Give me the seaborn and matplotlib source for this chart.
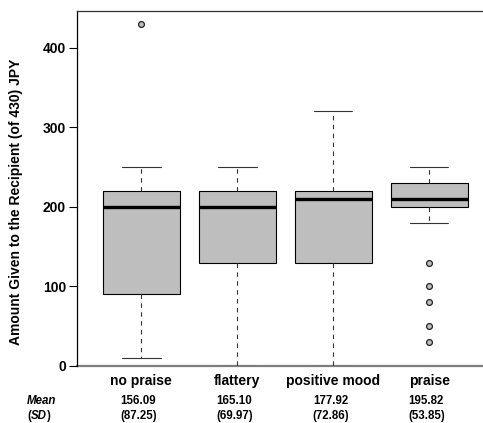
import pandas as pd
import matplotlib
matplotlib.use("Agg")
import matplotlib.pyplot as plt
import seaborn as sns

# values
conditions = ["no praise", "flattery", "positive mood", "praise"]
whisker_low = [10, 0, 0, 180]
q1 = [90, 130, 130, 200]
medians = [200, 200, 210, 210]
q3 = [220, 220, 220, 230]
whisker_high = [250, 250, 320, 250]
outliers = [[430], [], [], [130, 100, 80, 50, 30]]
means = [156.09, 165.10, 177.92, 195.82]
sds = [87.25, 69.97, 72.86, 53.85]
y_ticks = [0, 100, 200, 300, 400]


def box_sample(lo, a, med, b, hi, outs, m=6):
    # 4m+1 sorted values whose quartiles land exactly on a, med, b
    below = sorted([o for o in outs if o < a] + [lo])
    above = sorted([hi] + [o for o in outs if o > b])
    vals = below + [a] * (m - len(below)) + [a] * m + [med]
    vals += [b] * m + [b] * (m - len(above)) + above
    return vals


rows = []
for i, cond in enumerate(conditions):
    for v in box_sample(whisker_low[i], q1[i], medians[i], q3[i],
                        whisker_high[i], outliers[i]):
        rows.append({"condition": cond, "amount": v})
df = pd.DataFrame(rows)

sns.set_style("ticks")
plt.rcParams["font.family"] = ["Liberation Sans", "DejaVu Sans"]
plt.rcParams["font.weight"] = "bold"
plt.rcParams["text.color"] = "black"
plt.rcParams["axes.labelcolor"] = "black"
plt.rcParams["xtick.color"] = "black"
plt.rcParams["ytick.color"] = "black"

fig = plt.figure(figsize=(4.83, 4.23), dpi=100)
ax = fig.add_axes([77 / 483, 57.1 / 423, 416.6 / 483, 354.6 / 423])

sns.boxplot(
    data=df, x="condition", y="amount", order=conditions,
    color="#BEBEBE", saturation=1, width=0.8,
    linecolor="black", linewidth=0.8,
    whiskerprops=dict(linestyle=(0, (4, 4)), linewidth=0.8, color="#333333"),
    capprops=dict(linewidth=0.8, color="#333333"),
    medianprops=dict(linewidth=2.4, color="black"),
    flierprops=dict(marker="o", markersize=4.2, markerfacecolor="#BEBEBE",
                    markeredgecolor="#222222", markeredgewidth=0.9),
    ax=ax,
)

ax.set_xlim(-0.67, 3.67)
ax.set_ylim(0, 446)
ax.set_yticks(y_ticks)
ax.set_yticklabels([str(t) for t in y_ticks], fontsize=10, fontweight="bold")
ax.tick_params(axis="y", length=6, width=0.8, pad=2, color="black",
               labelcolor="black")
ax.tick_params(axis="x", length=0, pad=6, labelsize=10, labelcolor="black")
for lab in ax.get_xticklabels():
    lab.set_fontweight("bold")
ax.set_xlabel("")
ax.set_ylabel("Amount Given to the Recipient (of 430) JPY",
              fontsize=10, fontweight="bold", color="black")
ax.yaxis.set_label_coords(-0.13, 0.464)

ax.spines["left"].set_color("black")
ax.spines["left"].set_linewidth(0.9)
ax.spines["top"].set_color("#333333")
ax.spines["top"].set_linewidth(0.9)
ax.spines["bottom"].set_color("#7F7F7F")
ax.spines["bottom"].set_linewidth(1.6)
ax.spines["bottom"].set_zorder(0)

# mean / SD rows under the category labels
for i in range(len(conditions)):
    ax.annotate(f"{means[i]:.2f}", xy=(i - 0.03, 0),
                xycoords=("data", "axes fraction"), xytext=(0, -35),
                textcoords="offset pixels", ha="center", va="center",
                fontsize=8.3, fontweight="bold", annotation_clip=False)
    ax.annotate(f"({sds[i]:.2f})", xy=(i - 0.03, 0),
                xycoords=("data", "axes fraction"), xytext=(0, -50),
                textcoords="offset pixels", ha="center", va="center",
                fontsize=8.3, fontweight="bold", annotation_clip=False)

fig.text(27 / 483, 1 - 401 / 423, "Mean", fontsize=8.3, fontweight="bold",
         fontstyle="italic", ha="left", va="center")
t_open = fig.text(27 / 483, 1 - 416 / 423, "(", fontsize=8.3,
                  fontweight="bold", ha="left", va="center")
t_sd = ax.annotate("SD", xy=(1, 0.5), xycoords=t_open, ha="left", va="center",
                   fontsize=8.3, fontweight="bold", fontstyle="italic",
                   annotation_clip=False)
ax.annotate(")", xy=(1, 0.5), xycoords=t_sd, ha="left", va="center",
            fontsize=8.3, fontweight="bold", annotation_clip=False)

fig.savefig("out.png", dpi=100)
